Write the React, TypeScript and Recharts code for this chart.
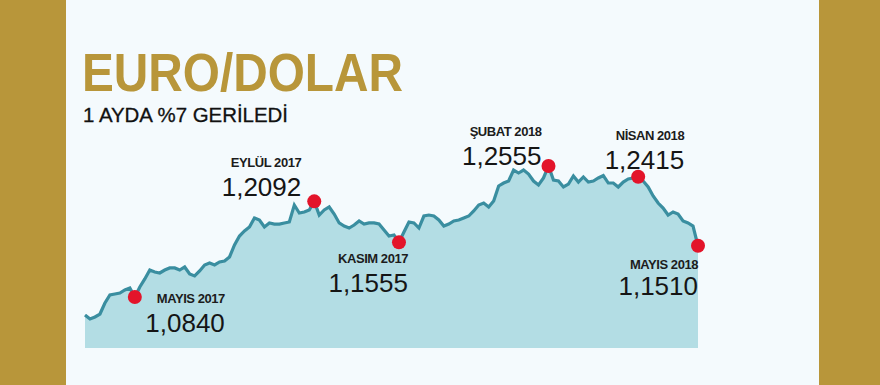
import React from 'react';
import { AreaChart, Area, XAxis, YAxis } from 'recharts';

// EUR/USD readings, roughly every few days, Apr 2017 – May 2018
const eurUsd = [
  1.0604, 1.0552, 1.0578, 1.0617, 1.0761, 1.0866, 1.0879, 1.0892, 1.0932, 1.0958,
  1.0840, 1.0971, 1.1076, 1.1193, 1.1167, 1.1154, 1.1193, 1.1220, 1.1220, 1.1193,
  1.1233, 1.1141, 1.1115, 1.1180, 1.1259, 1.1285, 1.1259, 1.1298, 1.1311, 1.1364,
  1.1521, 1.1638, 1.1704, 1.1756, 1.1874, 1.1848, 1.1756, 1.1809, 1.1795, 1.1795,
  1.1809, 1.1822, 1.2044, 1.1939, 1.1953, 1.1979, 1.2092, 1.1913, 1.1979, 1.2018,
  1.1926, 1.1809, 1.1769, 1.1743, 1.1782, 1.1835, 1.1795, 1.1809, 1.1809, 1.1795,
  1.1717, 1.1638, 1.1652, 1.1555, 1.1691, 1.1822, 1.1809, 1.1743, 1.1900, 1.1913,
  1.1900, 1.1848, 1.1769, 1.1795, 1.1835, 1.1848, 1.1874, 1.1900, 1.1966, 1.2044,
  1.2070, 1.2018, 1.2097, 1.2293, 1.2332, 1.2358, 1.2502, 1.2463, 1.2502, 1.2450,
  1.2358, 1.2306, 1.2398, 1.2555, 1.2371, 1.2358, 1.2280, 1.2319, 1.2424, 1.2345,
  1.2411, 1.2345, 1.2358, 1.2398, 1.2430, 1.2332, 1.2332, 1.2280, 1.2345, 1.2385,
  1.2398, 1.2415, 1.2358, 1.2280, 1.2162, 1.2070, 1.2005, 1.1913, 1.1953, 1.1926,
  1.1835, 1.1809, 1.1769, 1.1510,
];
const periods = eurUsd.map((_, i) => i);

const annotIndex = [10, 46, 63, 93, 111, 123];
const annotMonth = ['MAYIS 2017', 'EYLÜL 2017', 'KASIM 2017', 'ŞUBAT 2018', 'NİSAN 2018', 'MAYIS 2018'];
const annotValue = ['1,0840', '1,2092', '1,1555', '1,2555', '1,2415', '1,1510'];

const titleText = 'EURO/DOLAR';
const subtitleText = '1 AYDA %7 GERİLEDİ';

const data = periods.map((t, i) => ({ t, v: eurUsd[i] }));

// layout of annotation texts relative to their dot: [text end dx, month dy, value dy]
const annotLayout = [
  [90, 6, 35],
  [-13, -34, -5],
  [9, 21, 50],
  [-7, -30, -1],
  [46, -37, -8],
  [0, 23, 49],
];

const FONT = '"Liberation Sans", Arial, Helvetica, sans-serif';

const renderDot = (props: any) => {
  const { cx, cy, index } = props;
  const k = annotIndex.indexOf(index);
  if (k < 0) return <g key={`d${index}`} />;
  const [dx, dy1, dy2] = annotLayout[k];
  return (
    <g key={`d${index}`}>
      <circle cx={cx} cy={cy} r={7} fill="#e3142a" />
      <text x={cx + dx} y={cy + dy1} textAnchor="end" fontFamily={FONT} fontWeight="bold" fontSize={13} letterSpacing={-0.45} fill="#1c1c1c">
        {annotMonth[k]}
      </text>
      <text x={cx + dx} y={cy + dy2} textAnchor="end" fontFamily={FONT} fontSize={26} fill="#151515">
        {annotValue[k]}
      </text>
    </g>
  );
};

export default function App() {
  return (
    <div style={{ position: 'absolute', left: 0, top: 0, width: 880, height: 385, background: '#f4fafd', overflow: 'hidden' }}>
      <div style={{ position: 'absolute', left: 0, top: 0, width: 66, height: 385, background: '#b8963a' }} />
      <div style={{ position: 'absolute', left: 819, top: 0, width: 61, height: 385, background: '#b8963a' }} />
      <svg width={880} height={385} style={{ position: 'absolute', left: 0, top: 0 }}>
        <text x={82} y={91} fontFamily={FONT} fontWeight="bold" fontSize={53} fill="#b8963a" textLength={321} lengthAdjust="spacingAndGlyphs">
          {titleText}
        </text>
        <text x={83} y={122} fontFamily={FONT} fontSize={20.5} fill="#111" stroke="#111" strokeWidth={0.3} textLength={205} lengthAdjust="spacingAndGlyphs">
          {subtitleText}
        </text>
      </svg>
      <div style={{ position: 'absolute', left: 0, top: 0 }}>
        <AreaChart width={880} height={385} data={data} margin={{ top: 120, right: 182, bottom: 37, left: 85 }}>
          <XAxis dataKey="t" hide />
          <YAxis hide domain={[1.0172, 1.3157]} />
          <Area
            type="linear"
            dataKey="v"
            stroke="#3a8ea0"
            strokeWidth={3.2}
            fill="#b3dde4"
            fillOpacity={1}
            dot={renderDot}
            activeDot={false}
            isAnimationActive={false}
          />
        </AreaChart>
      </div>
    </div>
  );
}
